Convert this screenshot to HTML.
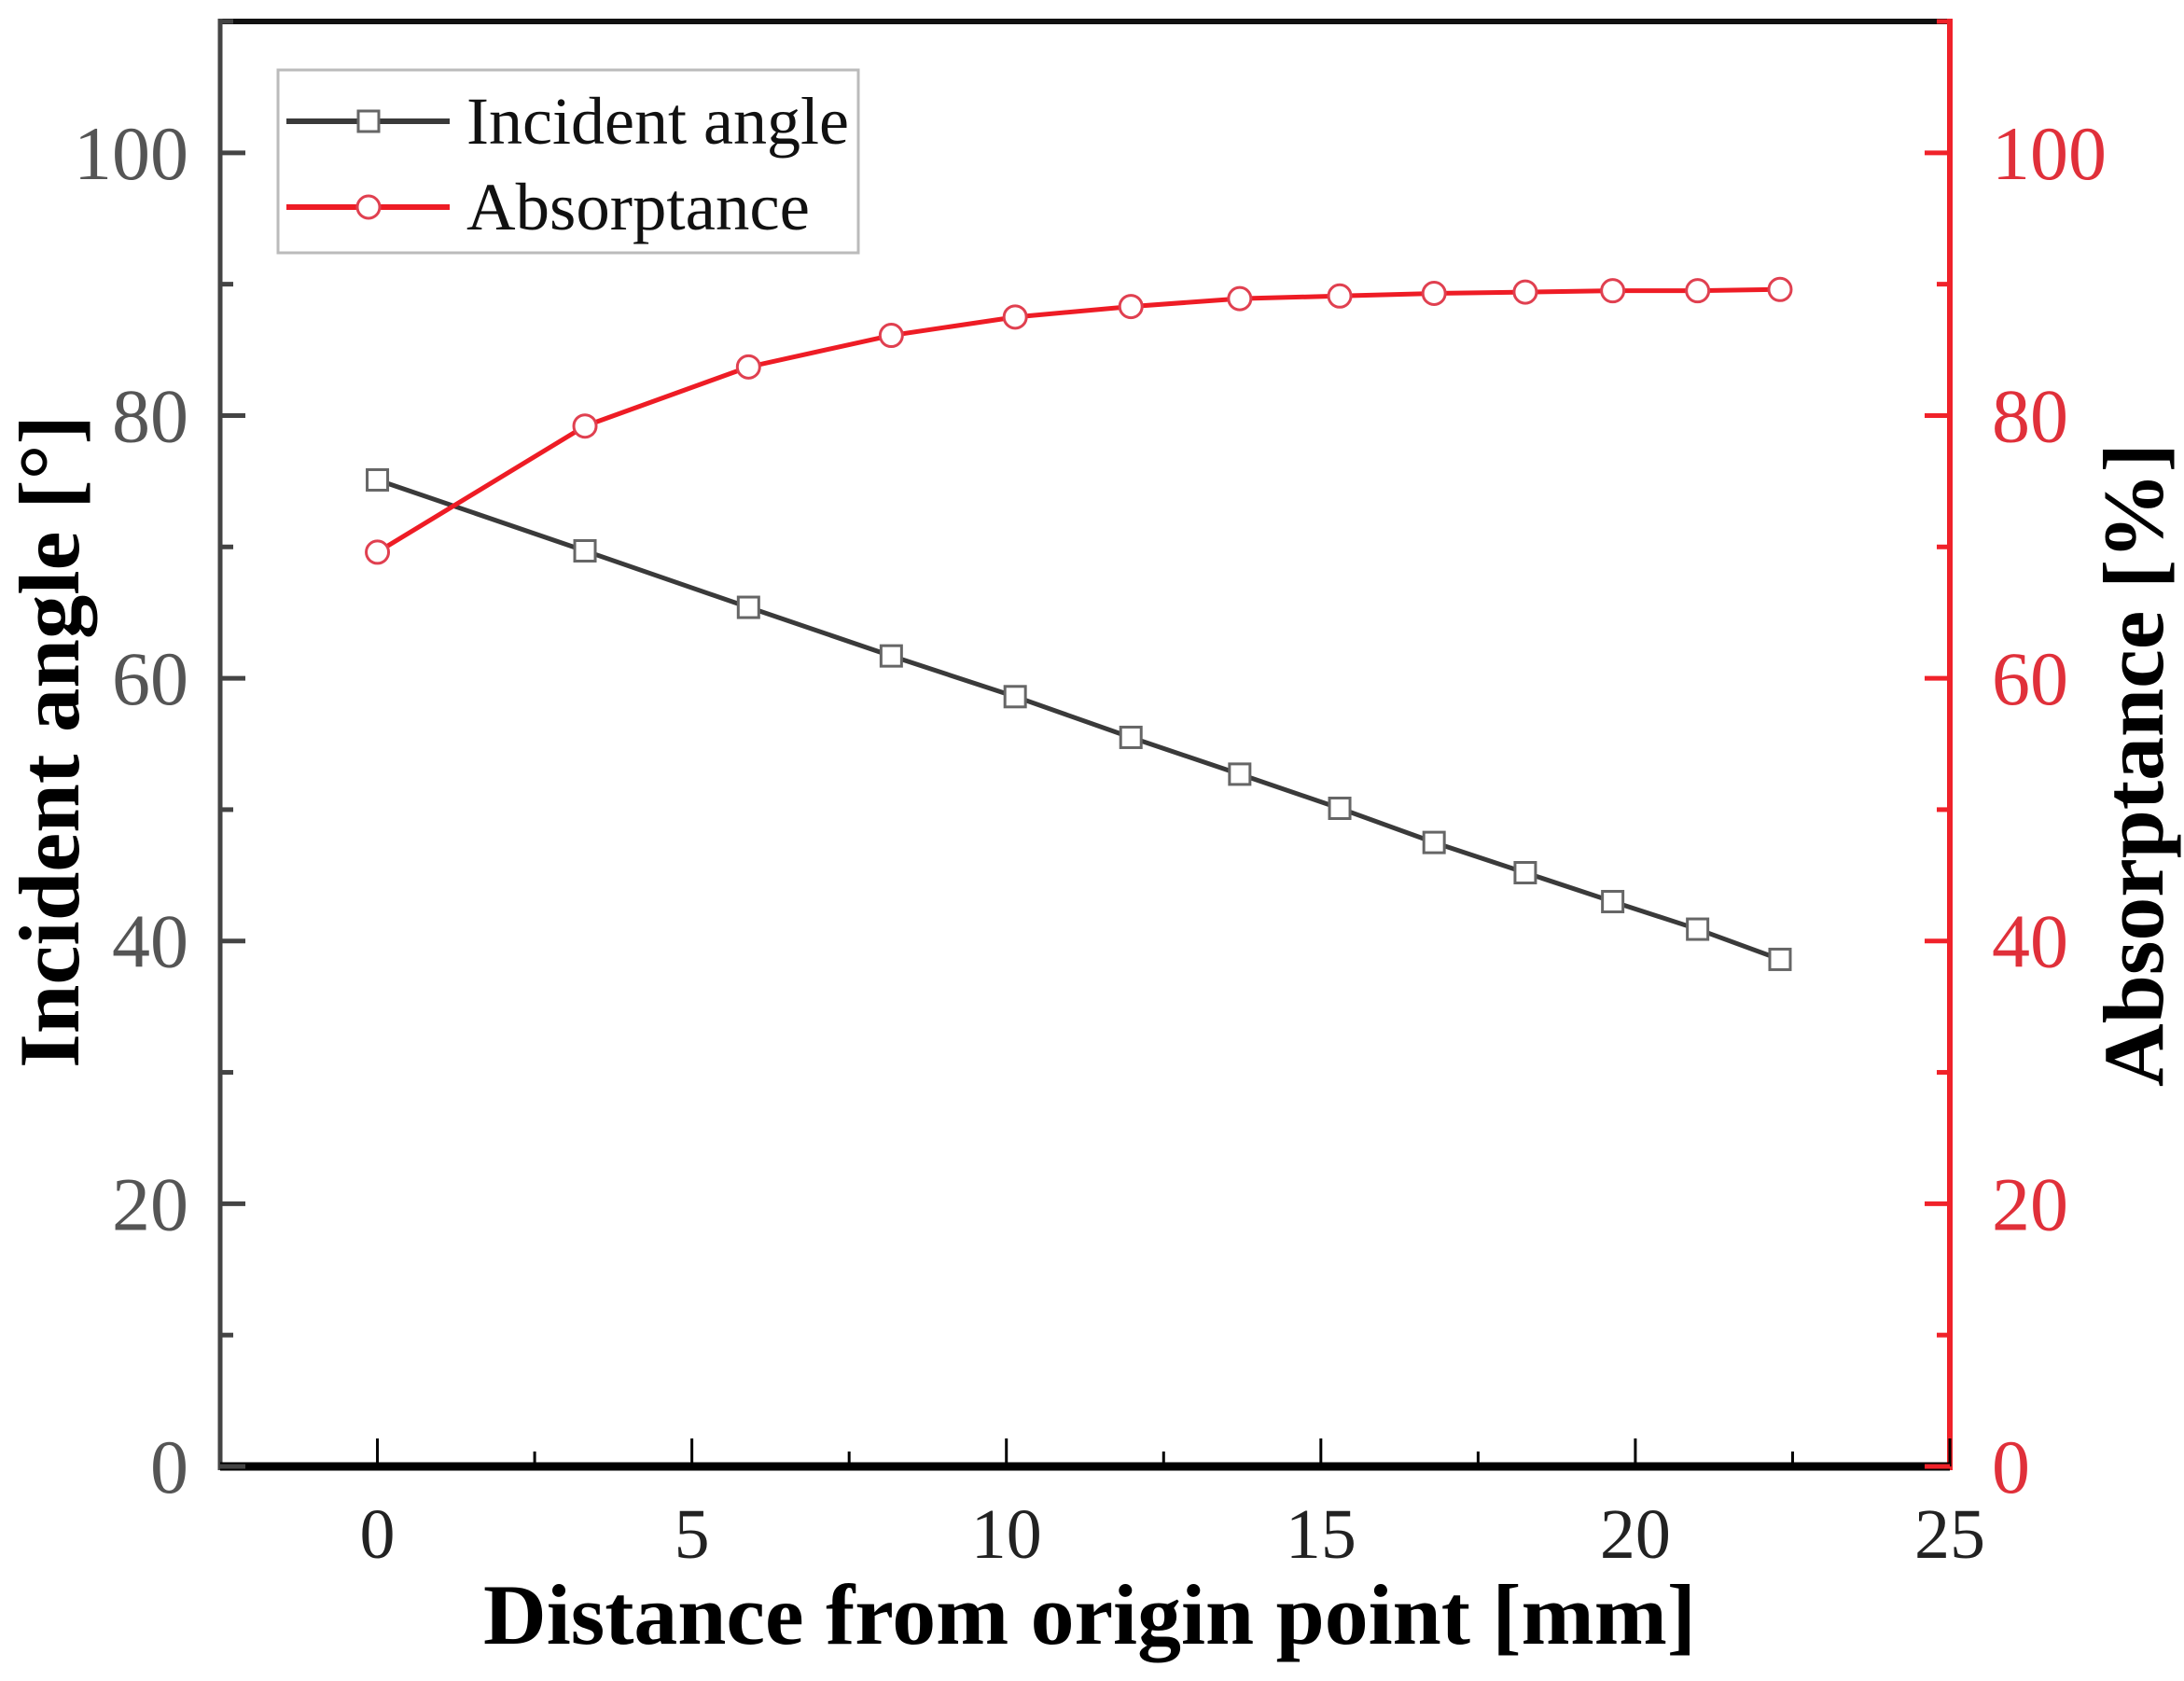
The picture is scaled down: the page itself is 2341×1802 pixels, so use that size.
<!DOCTYPE html>
<html><head><meta charset="utf-8"><style>
html,body{margin:0;padding:0;background:#fff;}
svg{display:block;font-family:"Liberation Serif",serif;}
</style></head><body>
<svg id="chart" width="2341" height="1802" viewBox="0 0 2341 1802" xmlns="http://www.w3.org/2000/svg"></svg>
<script>
const xValues = [0, 3.3, 5.9, 8.17, 10.14, 11.98, 13.71, 15.3, 16.8, 18.25, 19.64, 20.99, 22.3];
const incidentAngle = [75.1, 69.7, 65.4, 61.7, 58.6, 55.5, 52.7, 50.1, 47.5, 45.2, 43.0, 40.9, 38.6];
const absorptance = [69.6, 79.2, 83.7, 86.1, 87.5, 88.3, 88.9, 89.1, 89.3, 89.4, 89.5, 89.5, 89.6];
const xTicks = [0, 5, 10, 15, 20, 25];
const yTicks = [0, 20, 40, 60, 80, 100];

const L = 236, R = 2090, T = 23, B = 1572;
const X0 = -2.5, X1 = 25, Y0 = 0, Y1 = 110;
function sx(v){ return L + (v - X0) / (X1 - X0) * (R - L); }
function sy(v){ return B - (v - Y0) / (Y1 - Y0) * (B - T); }

const svg = document.getElementById('chart');
const NS = 'http://www.w3.org/2000/svg';
function mk(tag, attrs, parent){
  const e = document.createElementNS(NS, tag);
  for (const k in attrs) e.setAttribute(k, attrs[k]);
  (parent || svg).appendChild(e);
  return e;
}

let e;
e = mk('line', {x1:L, y1:T, x2:R, y2:T, stroke:'#111', 'stroke-width':6});


e = mk('line', {x1:L, y1:T-3, x2:L, y2:B+4, stroke:'#444', 'stroke-width':5});


e = mk('line', {x1:R, y1:T-3, x2:R, y2:B+4, stroke:'#f0222a', 'stroke-width':6});


e = mk('line', {x1:L, y1:B, x2:R, y2:B, stroke:'#000', 'stroke-width':9});



for (let i = 0; i < xTicks.length; i++) {
  const v = xTicks[i];
  const x = sx(v);
  e = mk('line', {x1:x, y1:B, x2:x, y2:B-30, stroke:'#000', 'stroke-width':3});
  
  
  if (i < xTicks.length - 1) {
    const xm = sx(v + 2.5);
    e = mk('line', {x1:xm, y1:B, x2:xm, y2:B-16, stroke:'#000', 'stroke-width':3});
    
    
  }
  e = mk('text', {x:x, y:1670, 'text-anchor':'middle', 'font-size':76, fill:'#222'});
  e.textContent = v;
  
  
}

for (let i = 0; i < yTicks.length; i++) {
  const v = yTicks[i];
  const y = sy(v);
  e = mk('line', {x1:L, y1:y, x2:L+27, y2:y, stroke:'#444', 'stroke-width':5});
  
  
  e = mk('line', {x1:R, y1:y, x2:R-27, y2:y, stroke:'#f0222a', 'stroke-width':5});
  
  
  const ym = sy(v + 10);
  e = mk('line', {x1:L, y1:ym, x2:L+14, y2:ym, stroke:'#444', 'stroke-width':5});
  
  
  e = mk('text', {x:L, y:ym, 'font-size':1, fill:'none'});
  e.remove();
  e = mk('line', {x1:R, y1:ym, x2:R-14, y2:ym, stroke:'#f0222a', 'stroke-width':5});
  
  
  e = mk('text', {x:202, y:y+28, 'text-anchor':'end', 'font-size':82, fill:'#555'});
  e.textContent = v;
  
  
  e = mk('text', {x:2135, y:y+28, 'text-anchor':'start', 'font-size':82, fill:'#e0303a'});
  e.textContent = v;
  
  
}

function pts(arr){ return xValues.map((x,i)=> sx(x)+','+sy(arr[i])).join(' '); }
e = mk('polyline', {points:pts(incidentAngle), fill:'none', stroke:'#3a3a3a', 'stroke-width':5});


e = mk('polyline', {points:pts(absorptance), fill:'none', stroke:'#ee1c25', 'stroke-width':5});



for (let i = 0; i < xValues.length; i++) {
  const x = sx(xValues[i]);
  e = mk('rect', {x:x-11, y:sy(incidentAngle[i])-11, width:22, height:22, fill:'#fff', stroke:'#666', 'stroke-width':3});
  
  
  e = mk('circle', {cx:x, cy:sy(absorptance[i]), r:12, fill:'#fff', stroke:'#e04050', 'stroke-width':3});
  
  
}

e = mk('text', {x:1168, y:1762, 'text-anchor':'middle', 'font-size':92, 'font-weight':'bold', fill:'#000', textLength:1300, lengthAdjust:'spacingAndGlyphs'});
e.textContent = 'Distance from origin point [mm]';


e = mk('text', {x:0, y:0, transform:'translate(84,795) rotate(-90)', 'text-anchor':'middle', 'font-size':92, 'font-weight':'bold', fill:'#000', textLength:700, lengthAdjust:'spacingAndGlyphs'});
e.textContent = 'Incident angle [°]';


e = mk('text', {x:0, y:0, transform:'translate(2318,820) rotate(-90)', 'text-anchor':'middle', 'font-size':92, 'font-weight':'bold', fill:'#000', textLength:690, lengthAdjust:'spacingAndGlyphs'});
e.textContent = 'Absorptance [%]';



const lg = mk('g', {});


e = mk('rect', {x:298, y:75, width:622, height:196, fill:'#fff', stroke:'#bbb', 'stroke-width':3}, lg);


e = mk('line', {x1:307, y1:130, x2:482, y2:130, stroke:'#3a3a3a', 'stroke-width':6}, lg);


e = mk('rect', {x:384, y:119, width:22, height:22, fill:'#fff', stroke:'#666', 'stroke-width':3}, lg);


e = mk('text', {x:500, y:154, 'font-size':72, fill:'#111', textLength:410, lengthAdjust:'spacingAndGlyphs'}, lg);
e.textContent = 'Incident angle';


e = mk('line', {x1:307, y1:222, x2:482, y2:222, stroke:'#ee1c25', 'stroke-width':6}, lg);


e = mk('circle', {cx:395, cy:222, r:12, fill:'#fff', stroke:'#e04050', 'stroke-width':3}, lg);


e = mk('text', {x:500, y:246, 'font-size':72, fill:'#111', textLength:368, lengthAdjust:'spacingAndGlyphs'}, lg);
e.textContent = 'Absorptance';


</script>
</body></html>
